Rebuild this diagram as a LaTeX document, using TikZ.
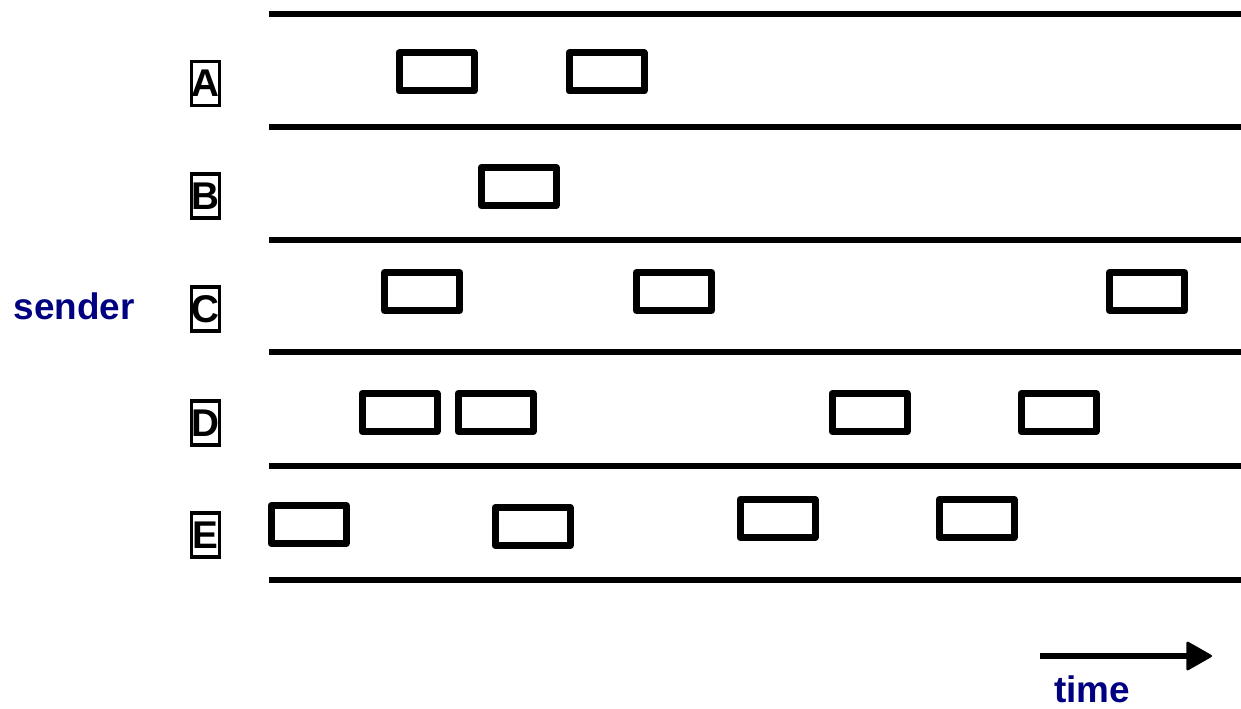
\documentclass[tikz,border=0pt]{standalone}
\usepackage{fontspec}
\setmainfont{Liberation Sans}
\usetikzlibrary{arrows.meta}
\definecolor{navy}{RGB}{0,0,128}
\begin{document}
\begin{tikzpicture}[x=0.02cm,y=-0.02cm,
  lane/.style={line width=0.13cm},
  pkt/.style={draw,line width=0.14cm,line join=round,minimum width=75*0.02cm,minimum height=38*0.02cm,inner sep=0pt},
  lbl/.style={draw,line width=0.07cm,minimum width=28*0.02cm,minimum height=44*0.02cm,inner sep=0pt,font=\fontsize{22}{24}\selectfont\bfseries},
  blue/.style={text=navy,font=\fontsize{21}{24}\selectfont\bfseries}]
\useasboundingbox (0,0) rectangle (1241,709);
% lanes
\foreach \n/\y in {0/14,1/127,2/240,3/352,4/466,5/580}{
  \coordinate (l\n a) at (269,\y);
  \coordinate (l\n b) at (1241,\y);
  \draw[lane] (l\n a) -- (l\n b);
}
% labels
\node[lbl] (A) at (205.5,83.5) {A};
\node[lbl] (B) at (205.5,196) {B};
\node[lbl] (C) at (205.5,309) {C};
\node[lbl] (D) at (205.5,423) {D};
\node[lbl] (E) at (205.5,535) {E};
\node[blue] (sender) at (74,306) {sender};
% packets
\node[pkt] (a1) at (436.5,72) {};
\node[pkt] (a2) at (606.5,72) {};
\node[pkt] (b1) at (518.5,186.5) {};
\node[pkt] (c1) at (422,291.5) {};
\node[pkt] (c2) at (674,291.5) {};
\node[pkt] (c3) at (1147,291.5) {};
\node[pkt] (d1) at (399.5,412.5) {};
\node[pkt] (d2) at (495.5,412.5) {};
\node[pkt] (d3) at (869.5,412.5) {};
\node[pkt] (d4) at (1058.5,412.5) {};
\node[pkt] (e1) at (308.5,524.5) {};
\node[pkt] (e2) at (532.5,526.5) {};
\node[pkt] (e3) at (777.5,518.5) {};
\node[pkt] (e4) at (976.5,518.5) {};
% time arrow
\coordinate (t0) at (1040,656);
\coordinate (t1) at (1212,656);
\draw[line width=0.12cm,-{Triangle[length=0.54cm,width=0.6cm,line width=0.05cm,round]}] (t0) -- (t1);
\node[blue] (time) at (1092,689) {time};
\end{tikzpicture}
\end{document}
